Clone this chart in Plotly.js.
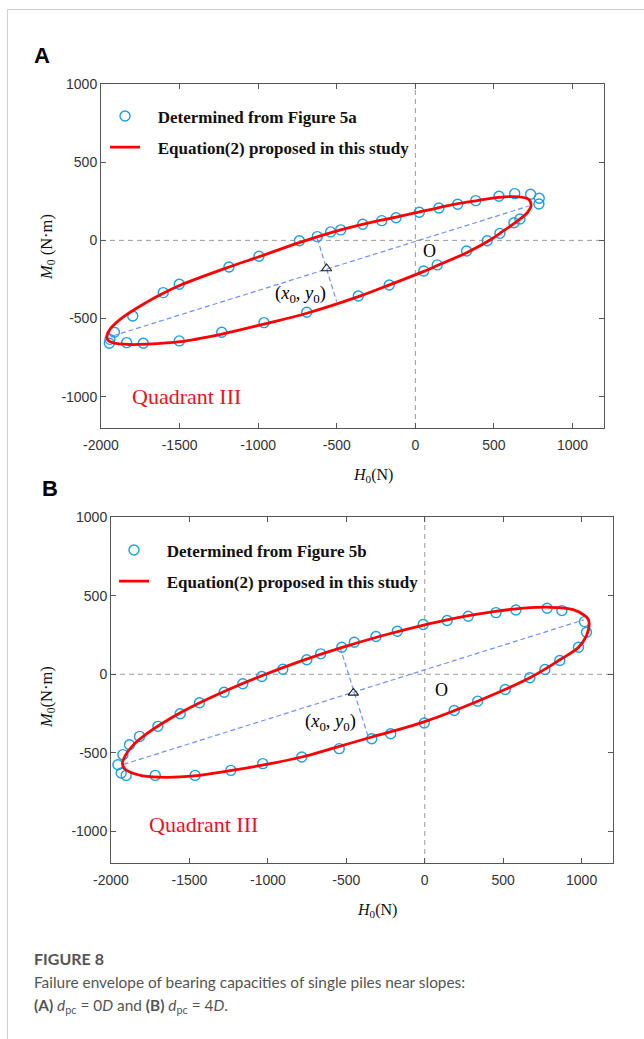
<!DOCTYPE html>
<html>
<head>
<meta charset="utf-8">
<script src="https://cdn.plot.ly/plotly-3.0.1.min.js"></script>
<style>html,body{margin:0;padding:0;background:#fff;}#chart{width:644px;height:1039px;}</style>
</head>
<body>
<div id="chart"></div>
<script>
// ---------- tick labels ----------
const xTickVals = [-2000, -1500, -1000, -500, 0, 500, 1000];
const xTickText = ["-2000", "-1500", "-1000", "-500", "0", "500", "1000"];
const yTickVals = [-1000, -500, 0, 500, 1000];
const yTickText = ["-1000", "-500", "0", "500", "1000"];

// ---------- Panel A: points determined from Figure 5a ----------
const aPtsX = [-1947,-1943,-1915,-1837,-1731,-1798,-1604,-1502,-1502,-1232,-1186,-995,-963,-738,-691,-624,-539,-475,-363,-335,-214,-123,25,150,269,384,532,632,733,788,786,665,627,538,457,326,139,53,-166];
const aPtsY = [-658,-633,-588,-654,-658,-484,-334,-281,-643,-588,-170,-102,-526,-2,-460,24,54,67,-356,103,126,145,180,207,231,254,282,299,295,269,233,137,113,45,-2,-68,-157,-196,-285];
// Panel A: fitted envelope, Equation (2)
const aFitX = [25,-123,-225,-475,-734,-995,-1190,-1497,-1604,-1709,-1858,-1940,-1962,-1955,-1922,-1815,-1709,-1497,-1232,-963,-691,-363,-225,50,146,326,475,538,644,708,722,735,730,708,632,532,384,269,150,25];
const aFitY = [182,148,128,67,-13,-105,-172,-287,-338,-395,-490,-565,-610,-640,-656,-666,-664,-648,-599,-535,-466,-360,-308,-200,-158,-79,2,45,120,172,192,216,250,269,280,275,253,235,209,182];
// Panel A: ellipse axes and centre
const aMajorX = [-1922, 723], aMajorY = [-610, 220];
const aMinorX = [-624, -501], aMinorY = [13, -392];
const aCenterX = [-565], aCenterY = [-180];

// ---------- Panel B: points determined from Figure 5b ----------
const bPtsX = [-1956,-1935,-1903,-1924,-1882,-1818,-1701,-1718,-1559,-1464,-1436,-1279,-1236,-1160,-1039,-1033,-905,-784,-752,-663,-545,-529,-449,-338,-311,-175,-10,143,277,454,581,780,874,1018,1031,980,861,766,670,513,337,188,-3,-217];
const bPtsY = [-575,-628,-643,-511,-448,-395,-331,-643,-251,-643,-181,-114,-611,-60,-14,-568,32,-526,92,130,-473,172,204,-410,240,274,316,342,369,392,409,420,405,335,267,172,88,30,-22,-97,-171,-230,-310,-378];
// Panel B: fitted envelope
const bFitX = [-20,-273,-531,-786,-1031,-1257,-1460,-1630,-1765,-1860,-1911,-1927,-1915,-1880,-1799,-1644,-1470,-1241,-1020,-784,-560,-338,-10,337,670,861,980,1031,1048,1040,1020,946,793,632,439,220,-20];
const bFitY = [310,245,169,85,-6,-100,-194,-286,-373,-452,-520,-568,-598,-622,-646,-655,-646,-613,-575,-526,-463,-399,-304,-171,-22,92,172,246,321,352,373,411,426,420,399,362,310];
const bMajorX = [-1920, 1014], bMajorY = [-573, 346];
const bMinorX = [-540, -360], bMinorY = [172, -399];
const bCenterX = [-455], bCenterY = [-118];

// ---------- styles ----------
const BLUE = '#1c9fe2';
const RED = '#ff0000';
const DASHBLUE = '#6f92f7';
const serif = 'Liberation Serif, Times New Roman, serif';
const sans = 'Liberation Sans, Arial, sans-serif';
const capFont = 'Lato, Open Sans, sans-serif';
const NB = '\u00a0\u00a0\u00a0';

function panelTraces(px, py, fx, fy, mjx, mjy, mnx, mny, cx, cy, xa, ya, leg, label) {
  return [
    {x: mjx, y: mjy, xaxis: xa, yaxis: ya, mode: 'lines', showlegend: false, hoverinfo: 'skip',
     line: {color: DASHBLUE, width: 1.2, dash: '5px,3px'}},
    {x: mnx, y: mny, xaxis: xa, yaxis: ya, mode: 'lines', showlegend: false, hoverinfo: 'skip',
     line: {color: DASHBLUE, width: 1.2, dash: '5px,3px'}},
    {x: px, y: py, xaxis: xa, yaxis: ya, mode: 'markers', name: NB + label, legend: leg, legendgroup: leg + 'p',
     marker: {symbol: 'circle-open', size: 10, color: BLUE, line: {width: 1.4, color: BLUE}}},
    {x: fx, y: fy, xaxis: xa, yaxis: ya, mode: 'lines', name: NB + 'Equation(2) proposed in this study', legend: leg, legendgroup: leg + 'f',
     line: {color: RED, width: 2.8, shape: 'spline', smoothing: 1}},
    {x: cx, y: cy, xaxis: xa, yaxis: ya, mode: 'markers', showlegend: false, hoverinfo: 'skip',
     marker: {symbol: 'triangle-up-open', size: 9, color: '#222', line: {width: 1.1, color: '#222'}}}
  ];
}

const data = [].concat(
  panelTraces(aPtsX, aPtsY, aFitX, aFitY, aMajorX, aMajorY, aMinorX, aMinorY, aCenterX, aCenterY, 'x', 'y', 'legend', 'Determined from Figure 5a'),
  panelTraces(bPtsX, bPtsY, bFitX, bFitY, bMajorX, bMajorY, bMinorX, bMinorY, bCenterX, bCenterY, 'x2', 'y2', 'legend2', 'Determined from Figure 5b')
);

function axis(extra) {
  return Object.assign({
    ticks: 'inside', ticklen: 5, tickcolor: '#555', tickwidth: 1,
    showline: true, linecolor: '#555', linewidth: 1, mirror: 'allticks',
    showgrid: false, zeroline: false, fixedrange: true,
    tickfont: {family: sans, size: 14, color: '#333'}
  }, extra);
}

const H = 1039, W = 644;
const px = v => v / W, py = v => 1 - v / H;

const legendCommon = {
  xanchor: 'left', yanchor: 'top', bgcolor: 'rgba(0,0,0,0)', borderwidth: 0,
  font: {family: serif, size: 17, color: '#111', weight: 'bold'},
  itemwidth: 30, tracegroupgap: 6, traceorder: 'grouped'
};

const dashGray = {color: '#9a9a9a', width: 1, dash: '5px,4px'};

function note(x, y, text, font, extra) {
  return Object.assign({xref: 'paper', yref: 'paper', x: px(x), y: py(y), text: text, showarrow: false,
    xanchor: 'center', yanchor: 'middle', font: font}, extra || {});
}
function dnote(xr, yr, x, y, text, font) {
  return {xref: xr, yref: yr, x: x, y: y, text: text, showarrow: false, xanchor: 'center', yanchor: 'middle', font: font};
}

const layout = {
  width: W, height: H,
  margin: {l: 0, r: 0, t: 0, b: 0},
  paper_bgcolor: '#fff', plot_bgcolor: '#fff',
  showlegend: true,
  xaxis: axis({domain: [px(101), px(604)], range: [-2000, 1200], anchor: 'y', tickvals: xTickVals, ticktext: xTickText, ticklabelstandoff: 4}),
  yaxis: axis({domain: [py(428), py(84)], range: [-1200, 1000], anchor: 'x', tickvals: yTickVals, ticktext: yTickText}),
  xaxis2: axis({domain: [px(111), px(613)], range: [-2000, 1200], anchor: 'y2', tickvals: xTickVals, ticktext: xTickText, ticklabelstandoff: 4}),
  yaxis2: axis({domain: [py(863), py(517)], range: [-1200, 1000], anchor: 'x2', tickvals: yTickVals, ticktext: yTickText}),
  legend: Object.assign({x: px(105), y: py(98.5)}, legendCommon),
  legend2: Object.assign({x: px(114), y: py(532.5)}, legendCommon),
  shapes: [
    // page frame
    {type: 'line', xref: 'paper', yref: 'paper', x0: px(7.5), x1: px(7.5), y0: 0, y1: py(9.5), line: {color: '#cfcfcf', width: 1}},
    {type: 'line', xref: 'paper', yref: 'paper', x0: px(7.5), x1: 1, y0: py(9.5), y1: py(9.5), line: {color: '#cfcfcf', width: 1}},
    // zero lines panel A
    {type: 'line', xref: 'x', yref: 'y domain', x0: 0, x1: 0, y0: 0, y1: 1, line: dashGray, layer: 'below'},
    {type: 'line', xref: 'x domain', yref: 'y', x0: 0, x1: 1, y0: 0, y1: 0, line: dashGray, layer: 'below'},
    // zero lines panel B
    {type: 'line', xref: 'x2', yref: 'y2 domain', x0: 0, x1: 0, y0: 0, y1: 1, line: dashGray, layer: 'below'},
    {type: 'line', xref: 'x2 domain', yref: 'y2', x0: 0, x1: 1, y0: 0, y1: 0, line: dashGray, layer: 'below'}
  ],
  annotations: [
    // panel letters
    note(42, 55, '<b>A</b>', {family: sans, size: 22, color: '#000'}),
    note(50, 489, '<b>B</b>', {family: sans, size: 22, color: '#000'}),
    // axis titles
    note(373, 475, '<i>H</i><sub>0</sub>(N)', {family: serif, size: 16, color: '#111'}),
    note(47, 247, '<i>M</i><sub>0</sub> (N·m)', {family: serif, size: 16.5, color: '#111'}, {textangle: -90}),
    note(377, 910, '<i>H</i><sub>0</sub>(N)', {family: serif, size: 16, color: '#111'}),
    note(47, 697, '<i>M</i><sub>0</sub>(N·m)', {family: serif, size: 16.5, color: '#111'}, {textangle: -90}),
    // panel A in-plot text
    dnote('x', 'y', 93, -68, 'O', {family: serif, size: 18, color: '#000'}),
    dnote('x', 'y', -734, -349, '(<i>x</i><sub>0</sub>, <i>y</i><sub>0</sub>)', {family: serif, size: 18.5, color: '#000'}),
    dnote('x', 'y', -1459, -1001, 'Quadrant III', {family: serif, size: 22, color: '#e8141a'}),
    // panel B in-plot text
    dnote('x2', 'y2', 108, -103, 'O', {family: serif, size: 18, color: '#000'}),
    dnote('x2', 'y2', -604, -304, '(<i>x</i><sub>0</sub>, <i>y</i><sub>0</sub>)', {family: serif, size: 18.5, color: '#000'}),
    dnote('x2', 'y2', -1413, -954, 'Quadrant III', {family: serif, size: 22, color: '#e8141a'}),
    // caption
    note(32, 958, 'FIGURE 8', {family: capFont, size: 16, color: '#555', weight: 'bold'}, {xanchor: 'left'}),
    note(32, 982, 'Failure envelope of bearing capacities of single piles near slopes:', {family: capFont, size: 15.4, color: '#555'}, {xanchor: 'left'}),
    note(32, 1006, '<b>(A)</b> <i>d</i><sub>pc</sub> = 0<i>D</i> and <b>(B)</b> <i>d</i><sub>pc</sub> = 4<i>D</i>.', {family: capFont, size: 15.4, color: '#555'}, {xanchor: 'left'})
  ]
};

Plotly.newPlot('chart', data, layout, {displayModeBar: false, staticPlot: true});
</script>
</body>
</html>
